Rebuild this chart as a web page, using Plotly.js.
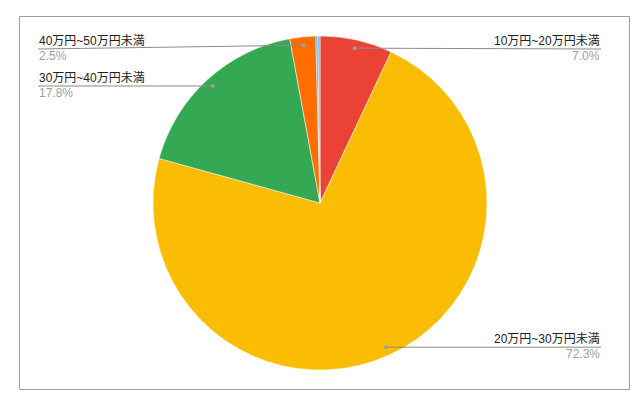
<!DOCTYPE html>
<html>
<head>
<meta charset="utf-8">
<script src="https://cdn.plot.ly/plotly-3.0.1.min.js"></script>
<style>
  html, body { margin: 0; padding: 0; background: #fff; }
  #chart { width: 643px; height: 411px; }
</style>
</head>
<body>
<div id="chart"></div>
<script>
// data
const categories = ['10万円~20万円未満', '20万円~30万円未満', '30万円~40万円未満', '40万円~50万円未満', '50万円~60万円未満', '60万円以上'];
const shares = [7.0, 72.3, 17.8, 2.5, 0.2, 0.2];
const sliceColors = ['#ea4335', '#fbbc04', '#34a853', '#ff6d01', '#46bdc6', '#7baaf7'];

const W = 643, H = 411;
const cx = 320, cy = 203, R = 167; // pie centre and radius in pixels
const px = x => x / W;
const py = y => 1 - y / H;

const total = shares.reduce((a, b) => a + b, 0);
const shapes = [];
const annotations = [];

// frame round the chart
shapes.push({ type: 'rect', xref: 'paper', yref: 'paper', x0: px(19.5), x1: px(629.5), y0: py(16.5), y1: py(389.5),
  line: { color: '#9e9e9e', width: 1 } });

// leader lines + labels for the slices big enough to be labelled
let cum = 0;
shares.forEach((v, i) => {
  const mid = (cum + v / 2) / total * 2 * Math.PI; // clockwise from 12 o'clock
  cum += v;
  if (v < 1) return;
  const dx = cx + 0.95 * R * Math.sin(mid);
  const dy = cy - 0.95 * R * Math.cos(mid);
  const right = Math.sin(mid) > 0;
  const lx = right ? 601 : 38;
  const ly = Math.max(dy, 49);
  shapes.push({ type: 'line', xref: 'paper', yref: 'paper', x0: px(dx), y0: py(dy), x1: px(lx), y1: py(ly),
    line: { color: '#8a8a8a', width: 1 } });
  shapes.push({ type: 'circle', xref: 'paper', yref: 'paper', x0: px(dx - 2), x1: px(dx + 2), y0: py(dy - 2), y1: py(dy + 2),
    fillcolor: '#9e9e9e', line: { width: 0 } });
  const anchor = right ? 'right' : 'left';
  annotations.push({ xref: 'paper', yref: 'paper', x: px(lx), y: py(ly), xanchor: anchor, yanchor: 'bottom',
    text: categories[i], showarrow: false, borderpad: 0, yshift: 0,
    font: { size: 12, color: '#222222' } });
  annotations.push({ xref: 'paper', yref: 'paper', x: px(lx), y: py(ly), xanchor: anchor, yanchor: 'top',
    text: (v / total * 100).toFixed(1) + '%', showarrow: false, borderpad: 0, yshift: 1,
    font: { size: 12, color: '#9e9e9e' } });
});

Plotly.newPlot('chart', [{
  type: 'pie',
  labels: categories,
  values: shares,
  sort: false,
  direction: 'clockwise',
  rotation: 0,
  textinfo: 'none',
  hoverinfo: 'label+percent',
  marker: { colors: sliceColors, line: { color: '#ffffff', width: 0.5 } },
  domain: { x: [px(cx - R), px(cx + R)], y: [py(cy + R), py(cy - R)] }
}], {
  width: W, height: H,
  margin: { t: 0, l: 0, r: 0, b: 0 },
  showlegend: false,
  paper_bgcolor: '#ffffff',
  font: { family: 'Arial, "Liberation Sans", "Noto Sans CJK JP", sans-serif' },
  shapes: shapes,
  annotations: annotations
}, { displayModeBar: false, staticPlot: true });
</script>
</body>
</html>
